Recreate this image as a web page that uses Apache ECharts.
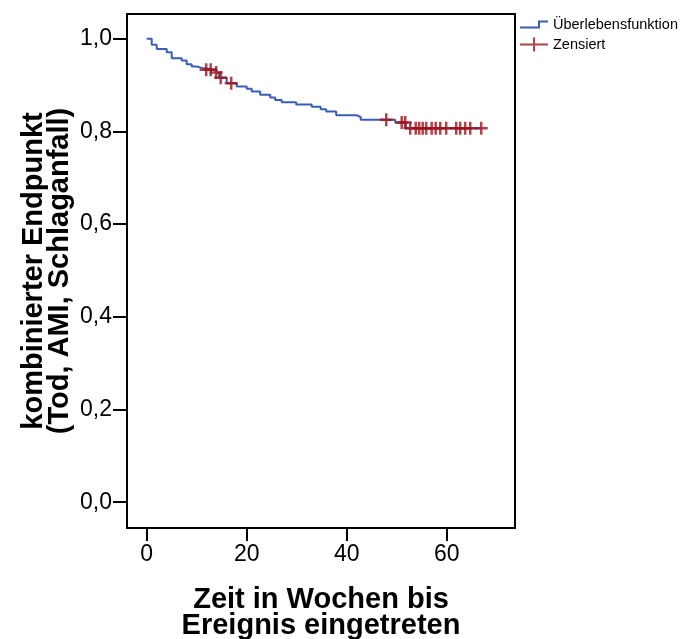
<!DOCTYPE html>
<html>
<head>
<meta charset="utf-8">
<script src="https://cdn.jsdelivr.net/npm/echarts@6/dist/echarts.min.js"></script>
<style>
  html, body { margin: 0; padding: 0; background: #fff; }
  #chart { width: 681px; height: 639px; }
</style>
</head>
<body>
<div id="chart"></div>
<script>
// Kaplan-Meier Stufen (Zeit in Wochen, Überleben)
var stepTimes = [0, 1, 2, 4, 5, 7, 8, 9, 10, 11, 13.9, 14.5, 16, 18, 20, 21, 22.7, 24.7, 25.7, 27, 29.9, 33, 34.8, 35.9, 37.9, 41.9, 42.8, 49.7, 51.8, 67];
var stepSurv = [1.0, 0.987, 0.978, 0.971, 0.958, 0.953, 0.945, 0.940, 0.937, 0.933, 0.927, 0.916, 0.904, 0.897, 0.892, 0.886, 0.879, 0.873, 0.868, 0.863, 0.858, 0.853, 0.848, 0.843, 0.835, 0.831, 0.825, 0.819, 0.807, 0.807];

// zensierte Fälle
var censorTimes = [11.9, 12.8, 13.9, 14.8, 16.9, 47.9, 51.0, 51.7, 52.7, 53.8, 54.5, 55.2, 55.9, 57.0, 57.8, 58.7, 59.9, 61.9, 62.7, 63.7, 64.7, 66.9];
var censorSurv = [0.933, 0.933, 0.927, 0.916, 0.904, 0.825, 0.819, 0.819, 0.807, 0.807, 0.807, 0.807, 0.807, 0.807, 0.807, 0.807, 0.807, 0.807, 0.807, 0.807, 0.807, 0.807];

var xTicks = [0, 20, 40, 60];
var yTicks = [0, 0.2, 0.4, 0.6, 0.8, 1.0];

var blue = '#3b5cb8';
var red = '#a0121c';
var labelFont = "'Liberation Sans Narrow', 'Liberation Sans', Arial, sans-serif";
var titleFont = "'Liberation Sans', Arial, sans-serif";

var chart = echarts.init(document.getElementById('chart'), null, { renderer: 'canvas' });

var stepIcon = 'path://M0 0 L0.01 0 Z M28 14 L27.99 14 Z M0 9 L18 9 L18 3 L28 3 L28 5 L20 5 L20 11 L0 11 Z';
var crossIcon = 'path://M0 6 L13 6 L13 0 L15 0 L15 6 L28 6 L28 8 L15 8 L15 14 L13 14 L13 8 L0 8 Z';
var plusSymbol = 'path://M5.25 0 L7.75 0 L7.75 5.25 L13 5.25 L13 7.75 L7.75 7.75 L7.75 13 L5.25 13 L5.25 7.75 L0 7.75 L0 5.25 L5.25 5.25 Z';

var option = {
  animation: false,
  backgroundColor: '#fff',
  grid: {
    left: 127, top: 14, width: 388, height: 514,
    containLabel: false,
    outerBoundsMode: 'none',
    show: true, borderColor: '#000', borderWidth: 2
  },
  legend: {
    orient: 'vertical',
    left: 520, top: 17,
    padding: 0,
    itemWidth: 28, itemHeight: 14, itemGap: 5,
    textStyle: { fontFamily: titleFont, fontSize: 14.5, color: '#000' },
    itemStyle: { borderWidth: 0 },
    data: [
      { name: 'Überlebensfunktion', icon: stepIcon },
      { name: 'Zensiert', icon: crossIcon }
    ]
  },
  xAxis: {
    type: 'value',
    min: -3.94, max: 73.66,
    axisLine: { show: false, onZero: false },
    axisTick: { show: true, customValues: xTicks, length: 13, lineStyle: { color: '#000', width: 2 } },
    axisLabel: { customValues: xTicks, margin: 15, fontSize: 23, color: '#000', fontFamily: labelFont },
    splitLine: { show: false },
    name: 'Zeit in Wochen bis\nEreignis eingetreten',
    nameLocation: 'middle',
    nameMoveOverlap: false,
    nameGap: 59,
    nameTextStyle: { fontFamily: titleFont, fontSize: 29, fontWeight: 'bold', lineHeight: 26, color: '#000' }
  },
  yAxis: {
    type: 'value',
    min: -0.0557, max: 1.0533,
    axisLine: { show: false, onZero: false },
    axisTick: { show: true, customValues: yTicks, length: 14, lineStyle: { color: '#000', width: 2 } },
    axisLabel: {
      customValues: yTicks, margin: 15, fontSize: 23, color: '#000', fontFamily: labelFont,
      formatter: function (v) { return v.toFixed(1).replace('.', ','); }
    },
    splitLine: { show: false },
    name: 'kombinierter Endpunkt\n(Tod, AMI, Schlaganfall)',
    nameLocation: 'middle',
    nameMoveOverlap: false,
    nameGap: 54,
    nameTextStyle: { fontFamily: titleFont, fontSize: 29, fontWeight: 'bold', lineHeight: 26, color: '#000' }
  },
  series: [
    {
      name: 'Überlebensfunktion',
      type: 'line',
      step: 'end',
      symbol: 'none',
      color: blue,
      lineStyle: { color: blue, width: 2 },
      data: stepTimes.map(function (t, i) { return [t, stepSurv[i]]; }),
      z: 2
    },
    {
      name: 'Zensiert',
      type: 'scatter',
      symbol: plusSymbol,
      symbolSize: 13,
      color: red,
      itemStyle: { color: red },
      data: censorTimes.map(function (t, i) { return [t, censorSurv[i]]; }),
      z: 3
    }
  ]
};

chart.setOption(option);
</script>
</body>
</html>
